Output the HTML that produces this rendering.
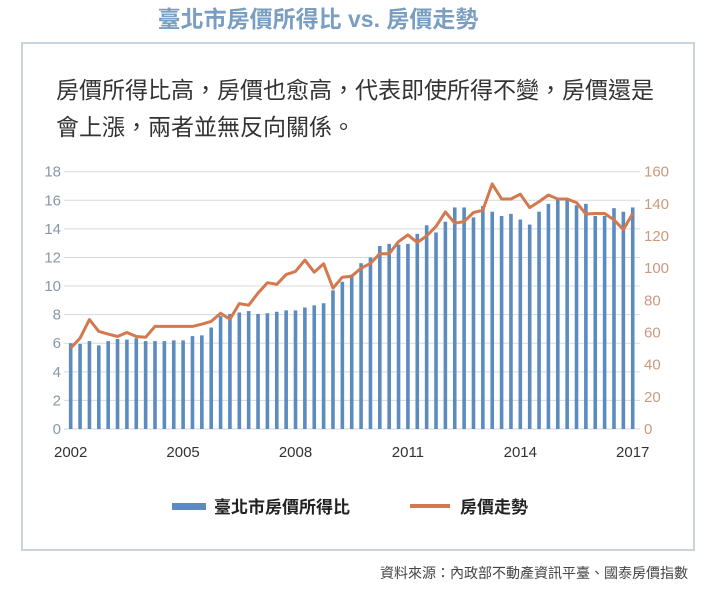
<!DOCTYPE html>
<html><head><meta charset="utf-8"><style>
body{margin:0;width:724px;height:600px;background:#fff;overflow:hidden;font-family:"Liberation Sans","Noto Sans CJK TC",sans-serif;}
</style></head><body>
<svg id="s" width="724" height="600" xmlns="http://www.w3.org/2000/svg" style="position:absolute;left:0;top:0">
<text x="318" y="27" text-anchor="middle" font-size="23" font-weight="bold" fill="#7a9ec2" font-family="Liberation Sans,Noto Sans CJK TC,sans-serif">臺北市房價所得比 vs. 房價走勢</text>
<rect x="22" y="43" width="672" height="507" fill="none" stroke="#c9d3dc" stroke-width="2"/>
<text x="56" y="98" font-size="23" fill="#333" font-family="Liberation Sans,Noto Sans CJK TC,sans-serif">房價所得比高，房價也愈高，代表即使所得不變，房價還是</text>
<text x="56" y="135" font-size="23" fill="#333" font-family="Liberation Sans,Noto Sans CJK TC,sans-serif">會上漲，兩者並無反向關係。</text>
<g id="g"></g>
<rect x="172" y="503" width="34" height="7" fill="#5b8bbf"/>
<text x="214" y="513" font-size="17" font-weight="bold" fill="#222" font-family="Liberation Sans,Noto Sans CJK TC,sans-serif">臺北市房價所得比</text>
<line x1="410" y1="506" x2="450" y2="506" stroke="#d4784e" stroke-width="4"/>
<text x="460" y="513" font-size="17" font-weight="bold" fill="#222" font-family="Liberation Sans,Noto Sans CJK TC,sans-serif">房價走勢</text>
<text x="688" y="578" text-anchor="end" font-size="14" fill="#444" font-family="Liberation Sans,Noto Sans CJK TC,sans-serif">資料來源：內政部不動產資訊平臺、國泰房價指數</text>
</svg>
<script>
var bars=[6.0,5.95,6.15,5.85,6.15,6.3,6.25,6.35,6.15,6.15,6.15,6.2,6.2,6.5,6.55,7.1,7.9,8.05,8.15,8.25,8.05,8.1,8.2,8.3,8.3,8.5,8.65,8.8,9.7,10.3,10.8,11.6,12.0,12.8,12.95,12.9,12.95,13.65,14.25,13.75,14.5,15.5,15.5,14.8,15.6,15.2,14.9,15.05,14.65,14.3,15.2,15.75,16.05,16.0,15.65,15.75,14.9,14.9,15.45,15.2,15.5];
var line=[50.3,56.5,68,60.7,59,57.5,60,57.5,57,63.8,63.8,63.8,63.8,63.8,65.2,66.9,72,68.3,78,77,84.5,91,90,96,98,105,97.5,102.7,87.6,94.4,95,100,103,109,109,116.5,120.7,116,120,126,135,128,129,134.6,136,152.4,143,143,146,137.7,141.4,145.5,143,143,140.8,133.7,134,134,130,124,134];
var y0=429,H=257.3,h='',F='font-family="Liberation Sans,sans-serif" font-size="15"';
for(var i=0;i<=9;i++){var y=y0-i*H/9;h+='<line x1="64" x2="640" y1="'+y+'" y2="'+y+'" stroke="#d5d9de" stroke-width="1"/>';
h+='<text x="61" y="'+(y+5)+'" text-anchor="end" fill="#8797aa" '+F+'>'+(i*2)+'</text>';}
for(var i=0;i<=8;i++){var y=y0-i*H/8;h+='<text x="644" y="'+(y+5)+'" fill="#c99a7f" '+F+'>'+(i*20)+'</text>';}
function X(k){return 70.7+k*9.367;}
bars.forEach(function(v,k){var t=y0-v*H/18;h+='<rect x="'+(X(k)-1.8)+'" y="'+t+'" width="3.6" height="'+(y0-t)+'" fill="#5b8bbf"/>';});
var p=line.map(function(v,k){return X(k).toFixed(1)+','+(y0-v*H/160).toFixed(1);}).join(' ');
h+='<polyline points="'+p+'" fill="none" stroke="#d4784e" stroke-width="3" stroke-linejoin="round"/>';
[2002,2005,2008,2011,2014,2017].forEach(function(yr,j){h+='<text x="'+X(j*12)+'" y="457" text-anchor="middle" fill="#333" '+F+'>'+yr+'</text>';});
document.getElementById('g').innerHTML=h;
</script>
</body></html>
